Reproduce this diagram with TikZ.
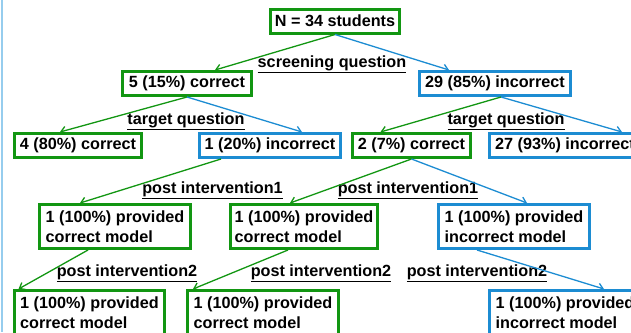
\documentclass[tikz,border=0pt]{standalone}
\usepackage{fontspec}
\setmainfont{Liberation Sans}
\usetikzlibrary{arrows.meta, positioning}

\definecolor{okgreen}{RGB}{18,150,18}
\definecolor{badblue}{RGB}{28,140,210}
\definecolor{edgeblue}{RGB}{150,205,238}

\tikzset{
	box/.style={draw, line width=3pt, inner sep=0pt, minimum height=24pt, font=\bfseries\fontsize{16.2}{19.5}\selectfont},
	gbox/.style={box, okgreen},
	bbox/.style={box, badblue},
	tall/.style={minimum height=44pt, align=left},
	lbl/.style={font=\bfseries\fontsize{16.2}{19.5}\selectfont, inner sep=0pt},
	gline/.style={okgreen, line width=1.3pt, -{Straight Barb[length=5pt,width=8pt]}},
	bline/.style={badblue, line width=1.3pt, -{Straight Barb[length=5pt,width=8pt]}},
}

\begin{document}
\begin{tikzpicture}[x=1pt, y=-1pt]
		\useasboundingbox (0, 0) rectangle (631, 332);
		\clip (0, 0) rectangle (631, 332);
		\draw[edgeblue, line width=2pt] (2, 0) -- (2, 332);

		% top
		\node[gbox, minimum width=129pt] (root) at (335, 21) {\textcolor{black}{N = 34 students}};
		\node[lbl] (screen) at (332, 64) {\underline{screening question}};

		% screening question
		\node[gbox, minimum width=129pt] (c5) at (187, 83.5) {\textcolor{black}{5 (15\%) correct}};
		\node[bbox, minimum width=151pt] (i29) at (495, 83.5) {\textcolor{black}{29 (85\%) incorrect}};
		\draw[gline] (root.south) -- ([xshift=28]c5.north);
		\draw[bline] (root.south) -- ([xshift=-46]i29.north);

		% target question
		\node[lbl] (targetl) at (186, 121) {\underline{target question}};
		\node[lbl] (targetr) at (506, 121) {\underline{target question}};
		\node[gbox, minimum width=127pt] (c4) at (78, 145.5) {\textcolor{black}{4 (80\%) correct}};
		\node[bbox, minimum width=141pt] (i1) at (270, 145.5) {\textcolor{black}{1 (20\%) incorrect}};
		\node[gbox, minimum width=118pt] (c2) at (411.5, 145.5) {\textcolor{black}{2 (7\%) correct}};
		\node[bbox, minimum width=152pt] (i27) at (565, 145.5) {\textcolor{black}{27 (93\%) incorrect}};
		\draw[gline] (c5.south) -- ([xshift=-18]c4.north);
		\draw[bline] (c5.south) -- ([xshift=32]i1.north);
		\draw[gline] ([xshift=6]i29.south) -- ([xshift=-31]c2.north);
		\draw[bline] ([xshift=6]i29.south) -- ([xshift=57]i27.north);

		% post intervention1
		\node[lbl] (postal) at (212.5, 190.5) {\underline{post intervention1}};
		\node[lbl] (postar) at (408, 190.5) {\underline{post intervention1}};
		\node[gbox, tall, minimum width=151pt] (p1) at (115, 226.5) {\textcolor{black}{1 (100\%) provided}\\\textcolor{black}{correct model}};
		\node[gbox, tall, minimum width=147pt] (p2) at (304, 226.5) {\textcolor{black}{1 (100\%) provided}\\\textcolor{black}{correct model}};
		\node[bbox, tall, minimum width=151pt] (p3) at (514, 226.5) {\textcolor{black}{1 (100\%) provided}\\\textcolor{black}{incorrect model}};
		\draw[gline] ([xshift=-49]i1.south) -- ([xshift=-35]p1.north);
		\draw[gline] (c2.south) -- ([xshift=-14]p2.north);
		\draw[bline] (c2.south) -- ([xshift=13]p3.north);

		% post intervention2
		\node[lbl] (postbl) at (127, 273) {\underline{post intervention2}};
		\node[lbl] (postbm) at (321, 273) {\underline{post intervention2}};
		\node[lbl] (postbr) at (477, 273) {\underline{post intervention2}};
		\node[gbox, tall, minimum width=150pt] (q1) at (89.5, 312.5) {\textcolor{black}{1 (100\%) provided}\\\textcolor{black}{correct model}};
		\node[gbox, tall, minimum width=151pt] (q2) at (263, 312.5) {\textcolor{black}{1 (100\%) provided}\\\textcolor{black}{correct model}};
		\node[bbox, tall, minimum width=151pt] (q3) at (565, 312.5) {\textcolor{black}{1 (100\%) provided}\\\textcolor{black}{incorrect model}};
		\draw[gline] ([xshift=-27]p1.south) -- ([xshift=-71]q1.north);
		\draw[gline] ([xshift=-16]p2.south) -- ([xshift=-70]q2.north);
		\draw[bline] ([xshift=-37]p3.south) -- ([xshift=39]q3.north);
	\end{tikzpicture}
\end{document}
